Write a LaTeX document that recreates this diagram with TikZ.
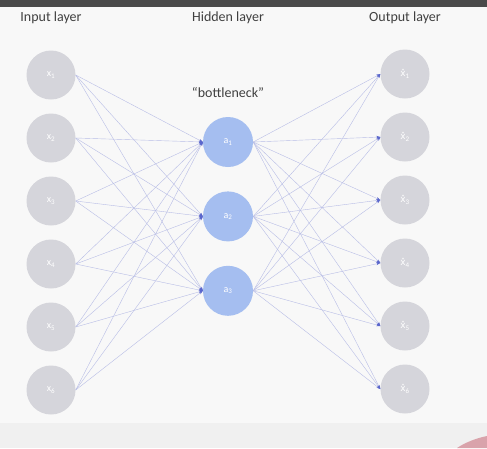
\documentclass[tikz,border=0pt]{standalone}
\usepackage{fontspec}
\setmainfont{Carlito}
\newfontfamily\hatfont{DejaVu Sans}
\usepackage{tikz}
\usetikzlibrary{positioning}
\usetikzlibrary{arrows.meta}
\definecolor{bggray}{HTML}{F8F8F8}
\definecolor{bandgray}{HTML}{F0F0F0}
\definecolor{bargray}{HTML}{4A4A4A}
\definecolor{skin}{HTML}{D9A3AB}
\definecolor{titlegray}{HTML}{404040}
\definecolor{unitgray}{HTML}{D5D5DB}
\definecolor{hiddenblue}{HTML}{A5BEF0}
\definecolor{wirecolor}{HTML}{B8BDE6}
\definecolor{tipblue}{HTML}{5A66CC}
\tikzstyle{unit}=[circle,fill=unitgray,minimum size=49pt,inner sep=0pt,text=white,font=\normalsize]
\tikzstyle{hunit}=[unit,fill=hiddenblue,minimum size=50pt]
\tikzstyle{layer}=[font=\fontsize{14}{16}\selectfont,text=titlegray]
\tikzstyle{wire}=[draw=wirecolor,line width=0.4pt,-{Stealth[length=4pt,width=2.5pt,color=tipblue]}]
\newcommand{\xhat}[1]{{\hatfont\small x̂}\textsubscript{#1}}

\begin{document}
\begin{tikzpicture}
	[x=1pt,y=-1pt,node distance=13.6pt]
	\useasboundingbox (0,0) rectangle (487,448);
	\fill[bggray] (0,0) rectangle (487,448);
	\fill[bandgray] (0,423) rectangle (487,448);
	\fill[bargray] (0,0) rectangle (487,7);
	\fill[skin] (457,448) .. controls (466,442) and (477,438) .. (487,436) -- (487,448) -- cycle;
	
	% titles
	\node (tin) [layer] at (51,18) {Input layer};
	\node (thid) [layer] at (228,18) {Hidden layer};
	\node (tout) [layer] at (405,18) {Output layer};
	\node (tneck) [layer] at (228,92) {“bottleneck”};
	
	% input layer
	\node (x1) [unit] at (51,75) {x\textsubscript{1}};
	\node (x2) [unit,below=of x1] {x\textsubscript{2}};
	\node (x3) [unit,below=of x2] {x\textsubscript{3}};
	\node (x4) [unit,below=of x3] {x\textsubscript{4}};
	\node (x5) [unit,below=of x4] {x\textsubscript{5}};
	\node (x6) [unit,below=of x5] {x\textsubscript{6}};
	
	% hidden layer
	\node (a1) [hunit] at (228,142) {a\textsubscript{1}};
	\node (a2) [hunit,below=24pt of a1] {a\textsubscript{2}};
	\node (a3) [hunit,below=24pt of a2] {a\textsubscript{3}};
	
	% output layer
	\node (y1) [unit] at (405,74) {\xhat{1}};
	\node (y2) [unit,below=of y1] {\xhat{2}};
	\node (y3) [unit,below=of y2] {\xhat{3}};
	\node (y4) [unit,below=of y3] {\xhat{4}};
	\node (y5) [unit,below=of y4] {\xhat{5}};
	\node (y6) [unit,below=of y5] {\xhat{6}};
	
	\foreach \i in {1,...,6}
		\foreach \j in {1,2,3}
			\draw[wire] (x\i.east) -- (a\j.west);
	\foreach \j in {1,2,3}
		\foreach \i in {1,...,6}
			\draw[wire] (a\j.east) -- (y\i.west);
\end{tikzpicture}
\end{document}
